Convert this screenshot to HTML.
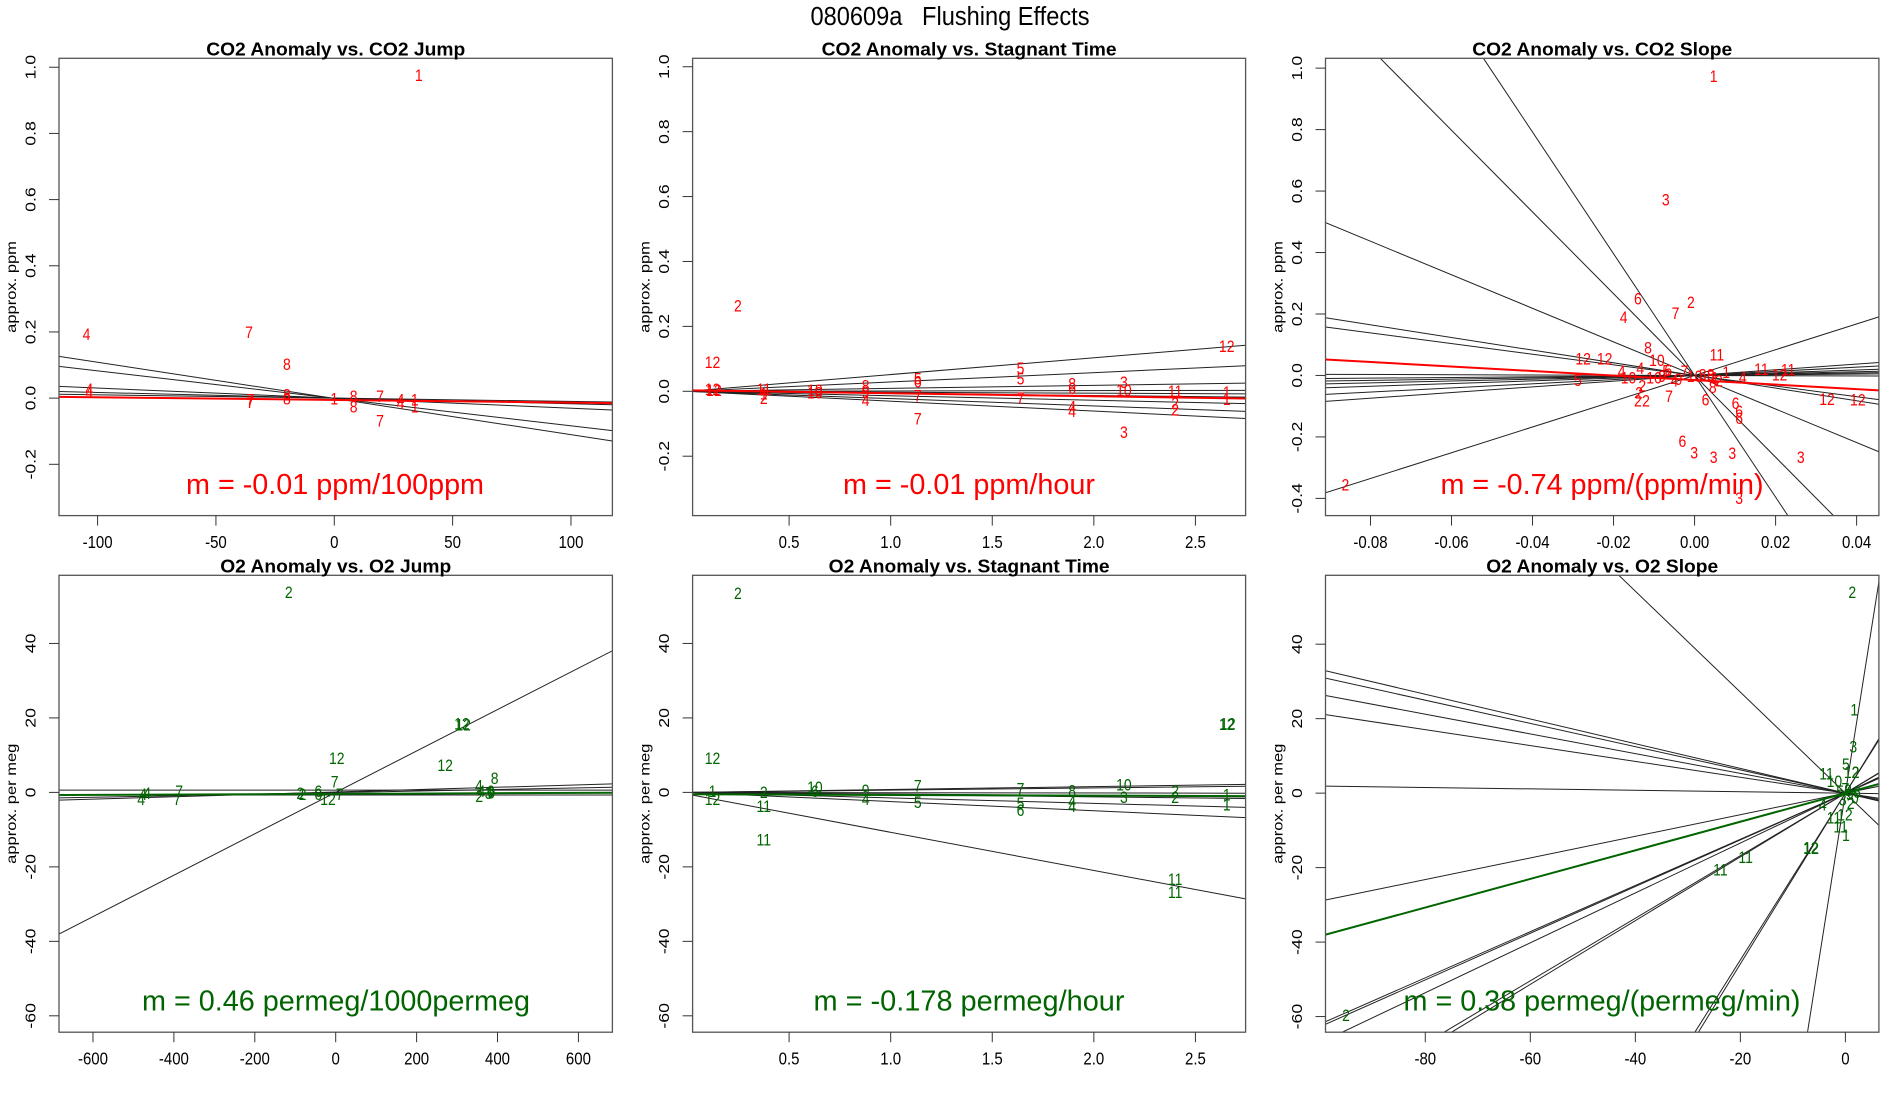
<!DOCTYPE html>
<html><head><meta charset="utf-8"><title>080609a Flushing Effects</title>
<style>
html,body{margin:0;padding:0;background:#fff;width:1900px;height:1100px;overflow:hidden;}
svg{display:block;font-family:"Liberation Sans",Arial,sans-serif;overflow:hidden;}
</style></head>
<body>
<svg id="chart" width="1900" height="1100" viewBox="0 0 1900 1100" xmlns="http://www.w3.org/2000/svg">
<rect x="0" y="0" width="1900" height="1100" fill="#fff"/>
</svg>
<script>
// ---------- Panel 1: CO2 anomaly vs CO2 jump ----------
const p1Labels = ["1","4","7","8","4","4","7","7","8","8","1","8","8","7","7","4","4","1","1"];
const p1X = [35.7,-104.7,-36,-20,-103.5,-103.5,-35.5,-35.5,-20,-20,0,8.2,8.2,19.3,19.3,28,28,34,34];
const p1Y = [0.973,0.19,0.197,0.099,0.024,0.015,-0.007,-0.015,0.008,-0.004,-0.004,0.003,-0.029,0.003,-0.071,-0.007,-0.018,-0.007,-0.029];
const p1Slopes = [-0.001095,-0.00083,-0.000304,-0.000171,-0.0001];
const p1Intercepts = [-0.001,-0.0005,0,0,0];
const p1Fit = [-0.0000813,-0.0055];
const p1XTicks = [-100,-50,0,50,100];
const p1YTicks = [-0.2,0,0.2,0.4,0.6,0.8,1.0];

// ---------- Panel 2: CO2 anomaly vs stagnant time ----------
const p2Labels = ["2","12","12","12","11","2","1","10","10","8","4","9","5","6","7","7","5","5","7","8","6","4","4","3","10","3","11","2","2","12","1","1"];
const p2X = [0.248,0.123,0.123,0.13,0.375,0.375,0.375,0.627,0.627,0.877,0.877,0.877,1.133,1.133,1.133,1.133,1.639,1.639,1.639,1.893,1.893,1.893,1.893,2.148,2.148,2.148,2.4,2.4,2.4,2.654,2.654,2.654];
const p2Y = [0.261,0.087,0.003,0.0,0.003,-0.024,-0.01,0,-0.008,0.014,-0.03,-0.005,0.036,0.026,-0.016,-0.087,0.068,0.036,-0.024,0.02,0.006,-0.051,-0.064,0.025,0,-0.129,-0.002,-0.04,-0.06,0.136,-0.005,-0.027];
const p2Slopes = [0.0516,0.0287,0.0091,0.0011,-0.0029,-0.0065,-0.0138,-0.0225,-0.0305];
const p2Intercepts = [0,0,0,0,0,0,0,0,0];
const p2Fit = [-0.0092,0.003];
const p2XTicks = [0.5,1.0,1.5,2.0,2.5];
const p2YTicks = [-0.2,0,0.2,0.4,0.6,0.8,1.0];

// ---------- Panel 3: CO2 anomaly vs CO2 slope ----------
const p3Labels = ["1","3","6","2","7","4","8","11","10","12","12","4","4","5","10","6","7","5","1","4","11","11","12","12","12","2","2","2","2","7","6","6","6","6","8","6","3","3","3","3","3","2","10","9","0","3","5","1","2","8","4","10"];
const p3X = [0.0047,-0.0071,-0.014,-0.0009,-0.0047,-0.0175,-0.0115,0.0055,-0.0093,-0.0275,-0.0222,-0.018,-0.0134,-0.0288,-0.0163,-0.0065,-0.0025,-0.007,0.0078,0.0119,0.0165,0.0231,0.021,0.0327,0.0403,-0.0129,-0.0137,-0.014,-0.012,-0.0063,0.0027,0.0101,0.011,0.011,0.0045,-0.003,-0.0001,0.0047,0.0093,0.0262,0.011,-0.0862,-0.01,-0.008,-0.004,0.002,0.004,0.005,0.006,0.004,-0.005,0.0];
const p3Y = [0.971,0.569,0.247,0.235,0.2,0.186,0.087,0.064,0.047,0.051,0.051,0.011,0.021,-0.019,-0.011,0.014,0.011,0.012,0.007,-0.008,0.018,0.015,0.0,-0.08,-0.082,-0.037,-0.059,-0.086,-0.086,-0.071,-0.082,-0.094,-0.119,-0.142,-0.042,-0.217,-0.254,-0.269,-0.256,-0.269,-0.402,-0.359,-0.01,-0.005,-0.015,0,-0.005,-0.01,-0.02,0.0,-0.02,-0.005];
const p3Slopes = [-13.3,-19.8,-5.46,-2.06,-1.73,-0.04,0.11,0.44,0.675,0.926,4.19,0.3,0.2];
const p3Intercepts = [0,0,0,0,0,0,0,0,0,0,0,0,0];
const p3Fit = [-0.736,-0.015];
const p3XTicks = [-0.08,-0.06,-0.04,-0.02,0.0,0.02,0.04];
const p3YTicks = [-0.4,-0.2,0,0.2,0.4,0.6,0.8,1.0];

// ---------- Panel 4: O2 anomaly vs O2 jump ----------
const p4Labels = ["2","12","12","12","12","7","8","4","4","2","6","3","4","4","4","7","7","2","2","6","6","12","7","9"];
const p4X = [-116,312,315,2.6,270.6,-2.6,393,354,360,355,383,378,-476,-481,-466,-387,-392,-87.5,-82,-43,-43,-19,10,385];
const p4Y = [53.5,18.2,17.9,8.9,7.0,2.6,3.6,1.6,0,-1.3,0,-0.5,-0.7,-2.1,-0.5,0,-2.1,-0.5,-0.7,0,-0.7,-2.1,-0.7,-0.4];
const p4Slopes = [0.0556,0.0032,0.0021,0,0];
const p4Intercepts = [0,0.1,-0.05,0.6,-0.7];
const p4Fit = [0.00046,-0.4];
const p4XTicks = [-600,-400,-200,0,200,400,600];
const p4YTicks = [-60,-40,-20,0,20,40];

// ---------- Panel 5: O2 anomaly vs stagnant time ----------
const p5Labels = ["2","12","12","1","2","11","11","10","6","9","4","7","5","7","5","6","8","4","4","10","3","2","2","11","11","12","12","1","1"];
const p5X = [0.248,0.123,0.123,0.123,0.375,0.375,0.375,0.627,0.627,0.877,0.877,1.133,1.133,1.639,1.639,1.639,1.893,1.893,1.893,2.148,2.148,2.4,2.4,2.4,2.4,2.654,2.66,2.654,2.654];
const p5Y = [53.3,8.9,-2.1,0,-0.2,-4.0,-13.0,1.2,0,0.3,-2.1,1.6,-2.9,0.7,-3.1,-5,0.2,-2.6,-4,1.8,-1.6,0.2,-1.6,-23.6,-27,18,18.2,-0.9,-3.5];
const p5Slopes = [-10.24,0.78,0.6,-0.08,-0.44,-0.6,-1.47,-2.47];
const p5Intercepts = [-0.48,0,0,0,0,0,0,0];
const p5Fit = [-0.178,-0.51];
const p5XTicks = [0.5,1.0,1.5,2.0,2.5];
const p5YTicks = [-60,-40,-20,0,20,40];

// ---------- Panel 6: O2 anomaly vs O2 slope ----------
const p6Labels = ["2","2","1","3","5","2","12","11","10","4","11","12","11","1","12","12","11","11","0","6","7","9","3","8","5","2"];
const p6X = [1.3,-95.1,1.7,1.5,0.1,1.9,1.2,-3.6,-2.1,-4.3,-2.2,-0.1,-0.9,0.1,-6.6,-6.5,-19,-23.8,1.8,2.2,0,0.8,-0.5,0.5,-1,1];
const p6Y = [53.7,-59.9,22.1,12.2,7.5,5.4,5.4,4.9,3.0,-3.4,-6.9,-6.1,-9.2,-11.6,-14.9,-15.1,-17.5,-20.8,-1.5,0,1,-0.5,-2,0.5,0.2,-3];
const p6Slopes = [-1.356,-0.332,-0.312,-0.213,-0.019,0.29,0.627,0.67,0.856,2.293,8.9,2.24,0.84,0.62,-0.265];
const p6Intercepts = [0,0,0,0,0,0,0,0,0,0,0,0,0,0,0];
const p6Fit = [0.384,0];
const p6XTicks = [-80,-60,-40,-20,0];
const p6YTicks = [-60,-40,-20,0,20,40];

const NS = "http://www.w3.org/2000/svg";
const svg = document.getElementById("chart");
const SY = 1.18;

function mk(tag, attrs, parent) {
  const e = document.createElementNS(NS, tag);
  for (const k in attrs) e.setAttribute(k, attrs[k]);
  (parent || svg).appendChild(e);
  return e;
}
function txt(str, x, y, size, opts, parent) {
  const g = mk("g", {transform: "translate(" + x + "," + y + ") scale(1," + SY + ")" + (opts.rot ? " rotate(-90)" : "")}, parent);
  const a = {x: 0, y: 0, "font-size": size, "text-anchor": "middle", "dominant-baseline": "central", fill: opts.fill || "#000"};
  if (opts.bold) a["font-weight"] = "bold";
  if (opts.len) { a.textLength = opts.len; a.lengthAdjust = "spacingAndGlyphs"; }
  const t = mk("text", a, g);
  t.textContent = str;
  return {g: g, t: t};
}
// clip line y = m x + b to the data window, returns [x1,y1,x2,y2] in data units or null
function clipLine(m, b, p) {
  let x1 = p.xmin, x2 = p.xmax;
  if (m !== 0) {
    const xa = (p.ymin - b) / m, xb = (p.ymax - b) / m;
    x1 = Math.max(x1, Math.min(xa, xb));
    x2 = Math.min(x2, Math.max(xa, xb));
  } else if (b < p.ymin || b > p.ymax) return null;
  if (x2 <= x1) return null;
  return [x1, m * x1 + b, x2, m * x2 + b];
}

const mt = txt("080609a\u00a0\u00a0\u00a0Flushing Effects", 950, 17, 22, {len: 279});



const panels = [
  {id:"co2-jump", title:"CO2 Anomaly vs. CO2 Jump", tw:259, left:59, right:612.4, top:58.3, bottom:515.6, xmin:-116.3, xmax:117.5, ymin:-0.355, ymax:1.027,
   labels:p1Labels, xs:p1X, ys:p1Y, slopes:p1Slopes, ints:p1Intercepts, fit:p1Fit, xt:p1XTicks, yt:p1YTicks, xf:v=>String(v), yf:v=>v.toFixed(1),
   color:"#ff0000", ylab:"approx. ppm", ann:"m = -0.01 ppm/100ppm", annX:335, annW:298},
  {id:"co2-stagnant", title:"CO2 Anomaly vs. Stagnant Time", tw:295, left:692.6, right:1245.6, top:58.3, bottom:515.6, xmin:0.025, xmax:2.747, ymin:-0.383, ymax:1.026,
   labels:p2Labels, xs:p2X, ys:p2Y, slopes:p2Slopes, ints:p2Intercepts, fit:p2Fit, xt:p2XTicks, yt:p2YTicks, xf:v=>v.toFixed(1), yf:v=>v.toFixed(1),
   color:"#ff0000", ylab:"approx. ppm", ann:"m = -0.01 ppm/hour", annX:969, annW:252},
  {id:"co2-slope", title:"CO2 Anomaly vs. CO2 Slope", tw:260, left:1325.5, right:1878.9, top:58.3, bottom:515.6, xmin:-0.0911, xmax:0.0455, ymin:-0.456, ymax:1.032,
   labels:p3Labels, xs:p3X, ys:p3Y, slopes:p3Slopes, ints:p3Intercepts, fit:p3Fit, xt:p3XTicks, yt:p3YTicks, xf:v=>v.toFixed(2), yf:v=>v.toFixed(1),
   color:"#ff0000", ylab:"approx. ppm", ann:"m = -0.74 ppm/(ppm/min)", annX:1602, annW:323},
  {id:"o2-jump", title:"O2 Anomaly vs. O2 Jump", tw:231, left:59, right:612.4, top:575.3, bottom:1032.2, xmin:-684, xmax:684, ymin:-64.4, ymax:58.3,
   labels:p4Labels, xs:p4X, ys:p4Y, slopes:p4Slopes, ints:p4Intercepts, fit:p4Fit, xt:p4XTicks, yt:p4YTicks, xf:v=>String(v), yf:v=>String(v),
   color:"#006400", ylab:"approx. per meg", ann:"m = 0.46 permeg/1000permeg", annX:336, annW:388},
  {id:"o2-stagnant", title:"O2 Anomaly vs. Stagnant Time", tw:281, left:692.6, right:1245.6, top:575.3, bottom:1032.2, xmin:0.025, xmax:2.747, ymin:-64.4, ymax:58.3,
   labels:p5Labels, xs:p5X, ys:p5Y, slopes:p5Slopes, ints:p5Intercepts, fit:p5Fit, xt:p5XTicks, yt:p5YTicks, xf:v=>v.toFixed(1), yf:v=>String(v),
   color:"#006400", ylab:"approx. per meg", ann:"m = -0.178 permeg/hour", annX:969, annW:311},
  {id:"o2-slope", title:"O2 Anomaly vs. O2 Slope", tw:232, left:1325.5, right:1878.9, top:575.3, bottom:1032.2, xmin:-99.0, xmax:6.38, ymin:-64.2, ymax:58.5,
   labels:p6Labels, xs:p6X, ys:p6Y, slopes:p6Slopes, ints:p6Intercepts, fit:p6Fit, xt:p6XTicks, yt:p6YTicks, xf:v=>String(v), yf:v=>String(v),
   color:"#006400", ylab:"approx. per meg", ann:"m = 0.38 permeg/(permeg/min)", annX:1602, annW:397}
];

panels.forEach((p, pi) => {
  const g = mk("g", {});
  
  
  const sx = v => p.left + (v - p.xmin) / (p.xmax - p.xmin) * (p.right - p.left);
  const sy = v => p.bottom - (v - p.ymin) / (p.ymax - p.ymin) * (p.bottom - p.top);
  const clip = mk("clipPath", {id: "clip" + pi}, g);
  mk("rect", {x: p.left, y: p.top, width: p.right - p.left, height: p.bottom - p.top}, clip);

  const lg = mk("g", {"clip-path": "url(#clip" + pi + ")"}, g);
  p.slopes.forEach((m, i) => {
    const c = clipLine(m, p.ints[i], p);
    if (!c) return;
    const l = mk("line", {x1: sx(c[0]), y1: sy(c[1]), x2: sx(c[2]), y2: sy(c[3]), stroke: "#222", "stroke-width": 1}, lg);
    
    
  });
  const cf = clipLine(p.fit[0], p.fit[1], p);
  if (cf) {
    const fl = mk("line", {x1: sx(cf[0]), y1: sy(cf[1]), x2: sx(cf[2]), y2: sy(cf[3]), stroke: p.color, "stroke-width": 2}, lg);
    
    
  }

  p.labels.forEach((lab, i) => {
    const r = txt(lab, sx(p.xs[i]), sy(p.ys[i]), 14, {fill: p.color}, lg);
    
    
  });

  const box = mk("rect", {x: p.left, y: p.top, width: p.right - p.left, height: p.bottom - p.top, fill: "none", stroke: "#555", "stroke-width": 1.3}, g);
  
  

  p.xt.forEach(v => {
    const x = sx(v);
    const tk = mk("line", {x1: x, y1: p.bottom, x2: x, y2: p.bottom + 10, stroke: "#333", "stroke-width": 1}, g);
    
    
    const r = txt(p.xf(v), x, p.bottom + 27, 15, {}, g);
    
    
  });
  p.yt.forEach(v => {
    const y = sy(v);
    const tk = mk("line", {x1: p.left - 10, y1: y, x2: p.left, y2: y, stroke: "#333", "stroke-width": 1}, g);
    
    
    const r = txt(p.yf(v), p.left - 28, y, 15, {rot: true}, g);
    
    
  });
  const yl = txt(p.ylab, p.left - 47, (p.top + p.bottom) / 2, 14, {rot: true}, g);
  
  
  const pt = txt(p.title, (p.left + p.right) / 2, p.top - 9.5, 16, {bold: true, len: p.tw}, g);
  
  
  const an = txt(p.ann, p.annX, p.bottom - 31.5, 24, {fill: p.color, len: p.annW}, g);
  
  
});
</script>
</body></html>
